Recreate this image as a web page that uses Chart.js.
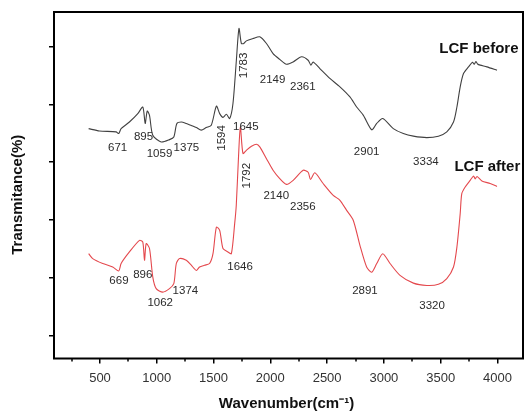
<!DOCTYPE html>
<html>
<head>
<meta charset="utf-8">
<script src="https://cdn.jsdelivr.net/npm/chart.js@4/dist/chart.umd.min.js"></script>
<style>
html,body{margin:0;padding:0;background:#fff}
#wrap{width:525px;height:412px;position:relative}
</style>
</head>
<body>
<div id="wrap"><canvas id="c"></canvas></div>
<script>
// ---- data ----
const seriesNames = ['LCF before', 'LCF after'];

const wavenumberBefore = [400,495,642,665,686,759,833,877,898,916,936,965,1039,1112,1150,1177,1216,1260,1304,1348,1392,1436,1480,1525,1554,1583,1613,1642,1671,1701,1724,1745,1766,1789,1848,1907,1966,2024,2083,2142,2201,2275,2333,2357,2377,2436,2524,2613,2701,2760,2818,2893,2937,2990,3083,3171,3260,3378,3480,3554,3613,3643,3672,3701,3745,3780,3795,3810,3825,3848,3907,3996];
const transmittanceBefore = [71.6,70.8,70.5,69.9,71.6,73.9,76.8,79.1,73.4,77.7,76.2,69.3,67.0,67.8,68.7,73.4,73.9,73.4,72.7,72.0,71.1,72.0,72.8,79.4,76.8,75.5,76.6,75.1,80.3,95.3,106.3,101.1,101.1,102.0,102.8,103.4,101.1,97.6,95.6,93.9,94.7,96.5,95.3,93.6,94.7,92.4,89.0,86.1,82.6,79.1,76.3,71.2,73.4,75.1,71.6,69.9,69.0,68.5,69.0,70.5,73.9,79.1,86.1,90.7,93.0,94.6,93.9,94.8,94.0,93.6,93.0,91.8];

const wavenumberAfter = [400,436,524,612,665,686,759,848,877,892,907,936,965,995,1053,1112,1150,1172,1201,1260,1304,1348,1377,1421,1465,1495,1525,1554,1583,1627,1657,1686,1700,1720,1736,1759,1789,1834,1878,1907,1966,2024,2083,2142,2201,2289,2333,2354,2392,2465,2554,2613,2672,2730,2789,2848,2893,2937,2990,3054,3142,3260,3378,3480,3554,3613,3643,3672,3686,3716,3760,3790,3804,3820,3863,3936,3996];
const transmittanceAfter = [28.3,26.6,24.9,23.7,22.3,24.9,28.9,32.9,32.3,26.0,31.8,30.1,20.2,16.2,15.0,16.2,17.9,24.9,26.6,26.0,24.3,22.5,23.7,24.3,24.9,28.3,37.5,36.4,30.1,28.9,28.3,38.7,45.0,62.0,72.2,63.0,64.1,65.5,66.2,65.3,61.2,57.2,54.3,52.3,53.7,57.2,56.5,54.0,56.3,52.6,48.5,46.8,43.3,39.9,31.2,23.7,21.9,24.9,28.3,24.9,20.8,18.1,17.3,17.7,19.7,23.7,30.6,42.2,49.1,51.4,53.7,55.2,54.2,55.0,53.5,52.6,51.6];

const xTickValues = [500,1000,1500,2000,2500,3000,3500,4000];
const xMinorTickValues = [250,750,1250,1750,2250,2750,3250,3750,4250];
const yTickValues = [0,20,40,60,80,100];

// peak labels: text, wavenumber, transmittance, vertical?
const peakLabelsBefore = [
  ['671',655,64.8,false],['895',883,68.8,false],['1059',1024,62.8,false],['1375',1261,65.1,false],
  ['1594',1577,68.4,true],['1645',1784,72.3,false],['1783',1763,93.5,true],['2149',2020,88.5,false],
  ['2361',2286,86.0,false],['2901',2848,63.7,false],['3334',3370,60.1,false]
];
const peakLabelsAfter = [
  ['669',667,19.0,false],['896',877,20.9,false],['1062',1030,11.2,false],['1374',1252,15.3,false],
  ['1646',1734,23.6,false],['1792',1793,55.3,true],['2140',2052,48.3,false],['2356',2286,44.5,false],
  ['2891',2833,15.5,false],['3320',3424,10.1,false]
];
const seriesLabelAnchors = [[3837,99.3],[3911,58.5]];
const xTitle = 'Wavenumber(cm\u207B\u00B9)';
const yTitle = 'Transmitance(%)';

// ---- drawing ----
const FONT = 'Arial, "Liberation Sans", Helvetica, sans-serif';

const decor = {
  id: 'decor',
  afterDatasetsDraw(chart) {
    const {ctx, chartArea: a, scales: {x, y}} = chart;
    ctx.save();
    // frame
    ctx.strokeStyle = '#000';
    ctx.lineWidth = 2;
    ctx.strokeRect(a.left, a.top, a.right - a.left, a.bottom - a.top);
    // minor ticks on x
    ctx.lineWidth = 1.5;
    xMinorTickValues.forEach(v => {
      if (v < x.min || v > x.max) return;
      const px = Math.round(x.getPixelForValue(v));
      ctx.beginPath(); ctx.moveTo(px, a.bottom); ctx.lineTo(px, a.bottom + 3); ctx.stroke();
    });
    // peak labels
    ctx.fillStyle = '#2b2b2b';
    ctx.font = '11.5px ' + FONT;
    ctx.textAlign = 'center';
    ctx.textBaseline = 'middle';
    [...peakLabelsBefore, ...peakLabelsAfter].forEach(([t, wx, wy, vert]) => {
      const px = x.getPixelForValue(wx), py = y.getPixelForValue(wy);
      if (vert) {
        ctx.save(); ctx.translate(px, py); ctx.rotate(-Math.PI / 2); ctx.fillText(t, 0, 0); ctx.restore();
      } else {
        ctx.fillText(t, px, py);
      }
    });
    // series names
    ctx.fillStyle = '#111';
    ctx.font = 'bold 15px ' + FONT;
    seriesNames.forEach((n, i) => {
      const [wx, wy] = seriesLabelAnchors[i];
      ctx.fillText(n, x.getPixelForValue(wx), y.getPixelForValue(wy));
    });
    // axis titles
    ctx.fillStyle = '#111';
    ctx.font = 'bold 15px ' + FONT;
    ctx.fillText(xTitle, (a.left + a.right) / 2 - 2, a.bottom + 45);
    ctx.save();
    ctx.translate(18, (a.top + a.bottom) / 2 + 9.5);
    ctx.rotate(-Math.PI / 2);
    ctx.fillText(yTitle, 0, 0);
    ctx.restore();
    ctx.restore();
  }
};

const toPts = (xs, ys) => xs.map((v, i) => ({x: v, y: ys[i]}));

new Chart(document.getElementById('c'), {
  type: 'line',
  data: {
    datasets: [
      {label: seriesNames[0], data: toPts(wavenumberBefore, transmittanceBefore), borderColor: '#404040', borderWidth: 1.1, pointRadius: 0, tension: 0.25},
      {label: seriesNames[1], data: toPts(wavenumberAfter, transmittanceAfter), borderColor: '#e4484d', borderWidth: 1.1, pointRadius: 0, tension: 0.25}
    ]
  },
  options: {
    responsive: true,
    maintainAspectRatio: false,
    animation: false,
    devicePixelRatio: 1,
    layout: {padding: {top: 12, right: 2, left: 0, bottom: 0}},
    plugins: {legend: {display: false}, tooltip: {enabled: false}},
    scales: {
      x: {
        type: 'linear', min: 95, max: 4225,
        afterBuildTicks: s => { s.ticks = xTickValues.map(v => ({value: v})); },
        afterFit: s => { s.height = 53.5; },
        border: {display: false},
        grid: {drawOnChartArea: false, drawTicks: true, tickLength: 5, color: '#000', lineWidth: 1.5},
        ticks: {color: '#333', font: {family: FONT, size: 13}, padding: 7, maxRotation: 0, autoSkip: false,
                callback: v => String(v)}
      },
      y: {
        type: 'linear', min: -8, max: 112,
        afterBuildTicks: s => { s.ticks = yTickValues.map(v => ({value: v})); },
        afterFit: s => { s.width = 54; },
        border: {display: false},
        grid: {drawOnChartArea: false, drawTicks: true, tickLength: 5, color: '#000', lineWidth: 1.5},
        ticks: {callback: () => ''}
      }
    }
  },
  plugins: [decor]
});
</script>
</body>
</html>
